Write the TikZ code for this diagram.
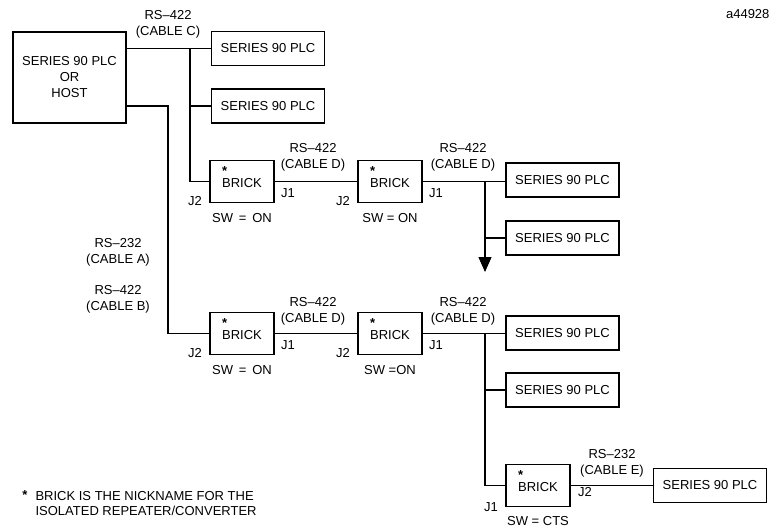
\documentclass[tikz,border=0pt]{standalone}
\usepackage{fontspec}
\setmainfont{Liberation Sans}
\usetikzlibrary{arrows.meta,positioning}

\begin{document}
\begin{tikzpicture}[x=1pt, y=-1pt, line width=1.1pt,
            every node/.style={font=\fontsize{13}{16}\selectfont, inner sep=0pt},
            plc/.style={draw, minimum width=113pt, minimum height=34pt},
            brick/.style={draw, minimum width=64pt, minimum height=42pt, align=left, text depth=8pt},
            cable/.style={align=center}]
            \useasboundingbox (0,0) rectangle (773,527);

            \node[draw, minimum width=113pt, minimum height=91pt, align=center] (host) at (69.5,77.5)
                {SERIES 90 PLC\\OR\\HOST};
            \node[plc] (p1) at (268,48.5)  {SERIES 90 PLC};
            \node[plc] (p2) at (268,106)   {SERIES 90 PLC};
            \node[plc] (p3) at (562.5,180) {SERIES 90 PLC};
            \node[plc] (p4) at (562.5,238) {SERIES 90 PLC};
            \node[plc] (p5) at (562.5,333) {SERIES 90 PLC};
            \node[plc] (p6) at (562.5,390) {SERIES 90 PLC};
            \node[plc] (p7) at (710,485.5) {SERIES 90 PLC};

            \node[brick] (b1) at (242,181.5) {\textbf{*}\\[-4pt]BRICK};
            \node[brick] (b2) at (390,181.5) {\textbf{*}\\[-4pt]BRICK};
            \node[brick] (b3) at (242,333.5) {\textbf{*}\\[-4pt]BRICK};
            \node[brick] (b4) at (390,333.5) {\textbf{*}\\[-4pt]BRICK};
            \node[brick] (b5) at (538,485.5) {\textbf{*}\\[-4pt]BRICK};

            % jacks and switches
            \node (b1j2) [left=7pt of b1.south west, yshift=2pt] {J2};
            \node (b1j1) [below right=7pt and 6pt of b1.east]   {J1};
            \node (b1sw) [below=10pt of b1.south]               {SW\,\ =\ \,ON};
            \node (b2j2) [left=7pt of b2.south west, yshift=2pt] {J2};
            \node (b2j1) [below right=7pt and 6pt of b2.east]   {J1};
            \node (b2sw) [below=10pt of b2.south]               {SW = ON};
            \node (b3j2) [left=7pt of b3.south west, yshift=2pt] {J2};
            \node (b3j1) [below right=7pt and 6pt of b3.east]   {J1};
            \node (b3sw) [below=10pt of b3.south]               {SW\,\ =\ \,ON};
            \node (b4j2) [left=7pt of b4.south west, yshift=2pt] {J2};
            \node (b4j1) [below right=7pt and 6pt of b4.east]   {J1};
            \node (b4sw) [below=10pt of b4.south]               {SW =ON};
            \node (b5j1) [left=7pt of b5.south west]            {J1};
            \node (b5j2) [below right=1pt and 7pt of b5.east]   {J2};
            \node (b5sw) [below=9pt of b5.south]                {SW = CTS};

            % cables
            \node[cable] (cabC)  at (168,24)  {RS–422\\(CABLE C)};
            \node[cable] (cabA)  at (118,252) {RS–232\\(CABLE A)};
            \node[cable] (cabB)  at (118,299) {RS–422\\(CABLE B)};
            \node[cable] (cabD1) at (313,157) {RS–422\\(CABLE D)};
            \node[cable] (cabD2) at (463,157) {RS–422\\(CABLE D)};
            \node[cable] (cabD3) at (313,311) {RS–422\\(CABLE D)};
            \node[cable] (cabD4) at (463,311) {RS–422\\(CABLE D)};
            \node[cable] (cabE)  at (612,463) {RS–232\\(CABLE E)};

            \node[anchor=north east] (figid) at (770,8.5) {a44928};
            \node[anchor=north west, align=left, font=\fontsize{13}{15}\selectfont] (note) at (35,490.5)
                {BRICK IS THE NICKNAME FOR THE\\ISOLATED REPEATER/CONVERTER};
            \node[anchor=base] (notestar) at (25,499.5) {\textbf{*}};

            \coordinate (busC) at (190,48.5);
            \coordinate (busB) at (168,333.5);
            \coordinate (busD) at (485,181.5);
            \coordinate (more) at (485,272);
            \coordinate (busE) at (485,333.5);

            \path[-]    (p1.west -| host.east) edge (p1.west)
                        (busC |- p2.west) edge (p2.west)
                        (b1.east) edge (b2.west)
                        (b2.east) edge (b2.east -| p3.west)
                        (busD |- p4.west) edge (p4.west)
                        (b3.east) edge (b4.west)
                        (b4.east) edge (b4.east -| p5.west)
                        (busE |- p6.west) edge (p6.west)
                        (b5.east) edge (p7.west);
            \draw (busC) |- (b1.west);
            \draw (host.east |- p2.west) -| (busB) -- (b3.west);
            \draw[-{Triangle[width=13pt,length=15pt]}] (busD) -- (more);
            \draw (busE) |- (b5.west);
        \end{tikzpicture}
\end{document}
